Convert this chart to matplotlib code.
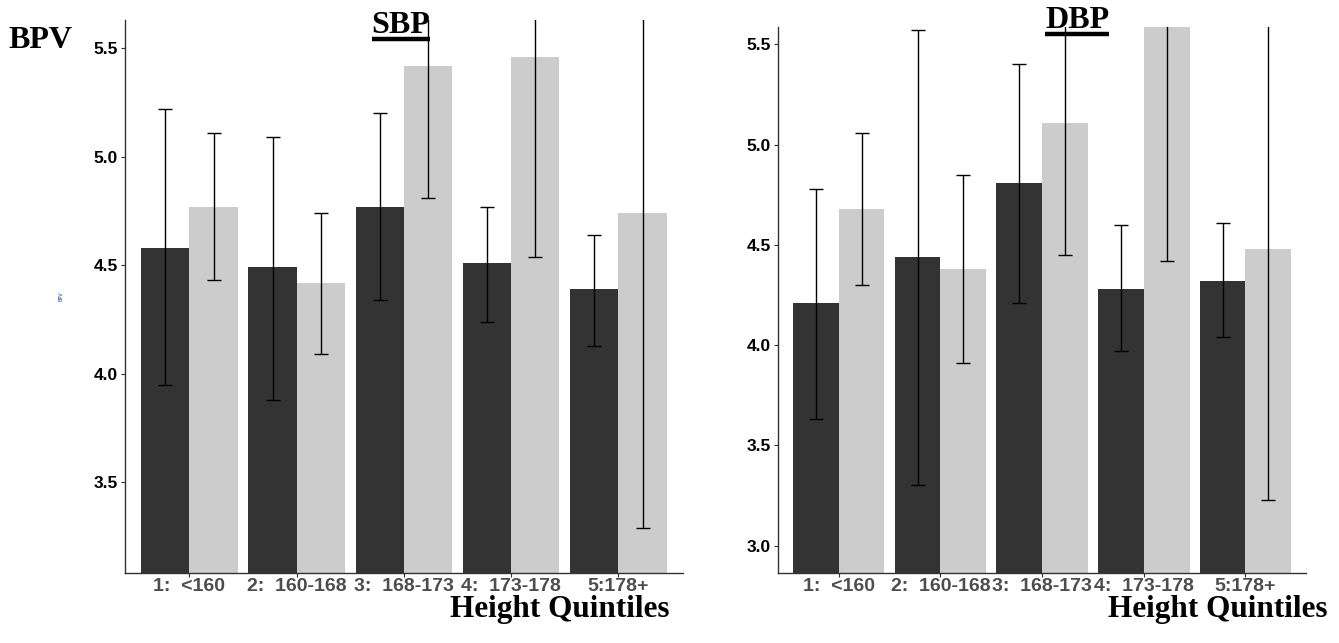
import numpy as np
import matplotlib
matplotlib.use('Agg')
import matplotlib.pyplot as plt
from matplotlib.lines import Line2D

# ============================================================
# DATA
# ============================================================
quintiles = ['1:  <160', '2:  160-168', '3:  168-173', '4:  173-178', '5:178+']

sbp_dark_mean = [4.58, 4.49, 4.77, 4.51, 4.39]
sbp_dark_lo = [3.95, 3.88, 4.34, 4.24, 4.13]
sbp_dark_hi = [5.22, 5.09, 5.20, 4.77, 4.64]
sbp_light_mean = [4.77, 4.42, 5.42, 5.46, 4.74]
sbp_light_lo = [4.43, 4.09, 4.81, 4.54, 3.29]
sbp_light_hi = [5.11, 4.74, 6.03, 6.38, 6.18]

dbp_dark_mean = [4.21, 4.44, 4.81, 4.28, 4.32]
dbp_dark_lo = [3.63, 3.30, 4.21, 3.97, 4.04]
dbp_dark_hi = [4.78, 5.57, 5.40, 4.60, 4.61]
dbp_light_mean = [4.68, 4.38, 5.11, 5.62, 4.48]
dbp_light_lo = [4.30, 3.91, 4.45, 4.42, 3.23]
dbp_light_hi = [5.06, 4.85, 5.77, 6.82, 5.73]

sbp_ylim = (3.083, 5.63)
dbp_ylim = (2.865, 5.585)
sbp_ticks = [3.5, 4.0, 4.5, 5.0, 5.5]
dbp_ticks = [3.0, 3.5, 4.0, 4.5, 5.0, 5.5]

# ============================================================
# STYLE
# ============================================================
DARK = '#333333'
LIGHT = '#CCCCCC'
AXIS = '#333333'
BAR_W = 0.45
SERIF = 'Liberation Serif'
SANS = 'Liberation Sans'

fig = plt.figure(figsize=(13.39, 6.43), dpi=100)
ax_l = fig.add_axes([0.0934, 0.1093, 0.4165, 0.8596])
ax_r = fig.add_axes([0.5808, 0.1093, 0.3949, 0.8482])


def draw_panel(ax, dm, dlo, dhi, lm, llo, lhi, ylim, ticks):
    x = np.arange(1, len(quintiles) + 1)
    for off, mean, lo, hi, col in [(-BAR_W / 2, dm, dlo, dhi, DARK),
                                   (BAR_W / 2, lm, llo, lhi, LIGHT)]:
        mean = np.array(mean)
        ax.bar(x + off, mean, width=BAR_W, color=col, zorder=2)
        err = [mean - np.array(lo), np.array(hi) - mean]
        ax.errorbar(x + off, mean, yerr=err, fmt='none', ecolor='black',
                    elinewidth=1.0, capsize=4.7, capthick=1.0, zorder=3)
    ax.set_xlim(0.4, len(quintiles) + 0.6)
    ax.set_ylim(*ylim)
    ax.set_xticks(x)
    ax.set_xticklabels(quintiles, fontsize=14, fontweight='bold',
                       color='#4D4D4D', family=SANS)
    ax.set_yticks(ticks)
    ax.set_yticklabels([f'{t:.1f}' for t in ticks], fontsize=12.5,
                       fontweight='bold', color='black', family=SANS)
    for side in ['top', 'right']:
        ax.spines[side].set_visible(False)
    for side in ['left', 'bottom']:
        ax.spines[side].set_color(AXIS)
        ax.spines[side].set_linewidth(1.0)
    ax.tick_params(length=3, width=0.8, color=AXIS)
    ax.tick_params(axis='x', pad=0.5)
    ax.tick_params(axis='y', pad=2)


draw_panel(ax_l, sbp_dark_mean, sbp_dark_lo, sbp_dark_hi,
           sbp_light_mean, sbp_light_lo, sbp_light_hi, sbp_ylim, sbp_ticks)
draw_panel(ax_r, dbp_dark_mean, dbp_dark_lo, dbp_dark_hi,
           dbp_light_mean, dbp_light_lo, dbp_light_hi, dbp_ylim, dbp_ticks)

# tiny y label left over from the source plot
ax_l.set_ylabel('BPV', fontsize=3.5, color='#1F3A93', labelpad=22)

# ============================================================
# ANNOTATIONS
# ============================================================
fig.text(8 / 1339, 1 - 40 / 643, 'BPV', family=SERIF, fontweight='bold',
         fontsize=23, va='center', ha='left')
titles = [
    fig.text(401 / 1339, 1 - 33 / 643, 'SBP', family=SERIF, fontweight='bold',
             fontsize=23, va='baseline', ha='center'),
    fig.text(1077 / 1339, 1 - 28 / 643, 'DBP', family=SERIF, fontweight='bold',
             fontsize=23, va='baseline', ha='center'),
]
fig.text(669 / 1339, 1 - 617 / 643, 'Height Quintiles', family=SERIF,
         fontweight='bold', fontsize=22.5, va='baseline', ha='right')
fig.text(1328 / 1339, 1 - 617 / 643, 'Height Quintiles', family=SERIF,
         fontweight='bold', fontsize=22.5, va='baseline', ha='right')

# underline the panel titles
fig.canvas.draw()
renderer = fig.canvas.get_renderer()
for t in titles:
    bb = t.get_window_extent(renderer)
    y = (bb.y0 + 1) / fig.bbox.height
    fig.add_artist(Line2D([bb.x0 / fig.bbox.width, bb.x1 / fig.bbox.width],
                          [y, y], color='black', linewidth=3.2,
                          solid_capstyle='butt'))

fig.savefig('out.png', dpi=100)
